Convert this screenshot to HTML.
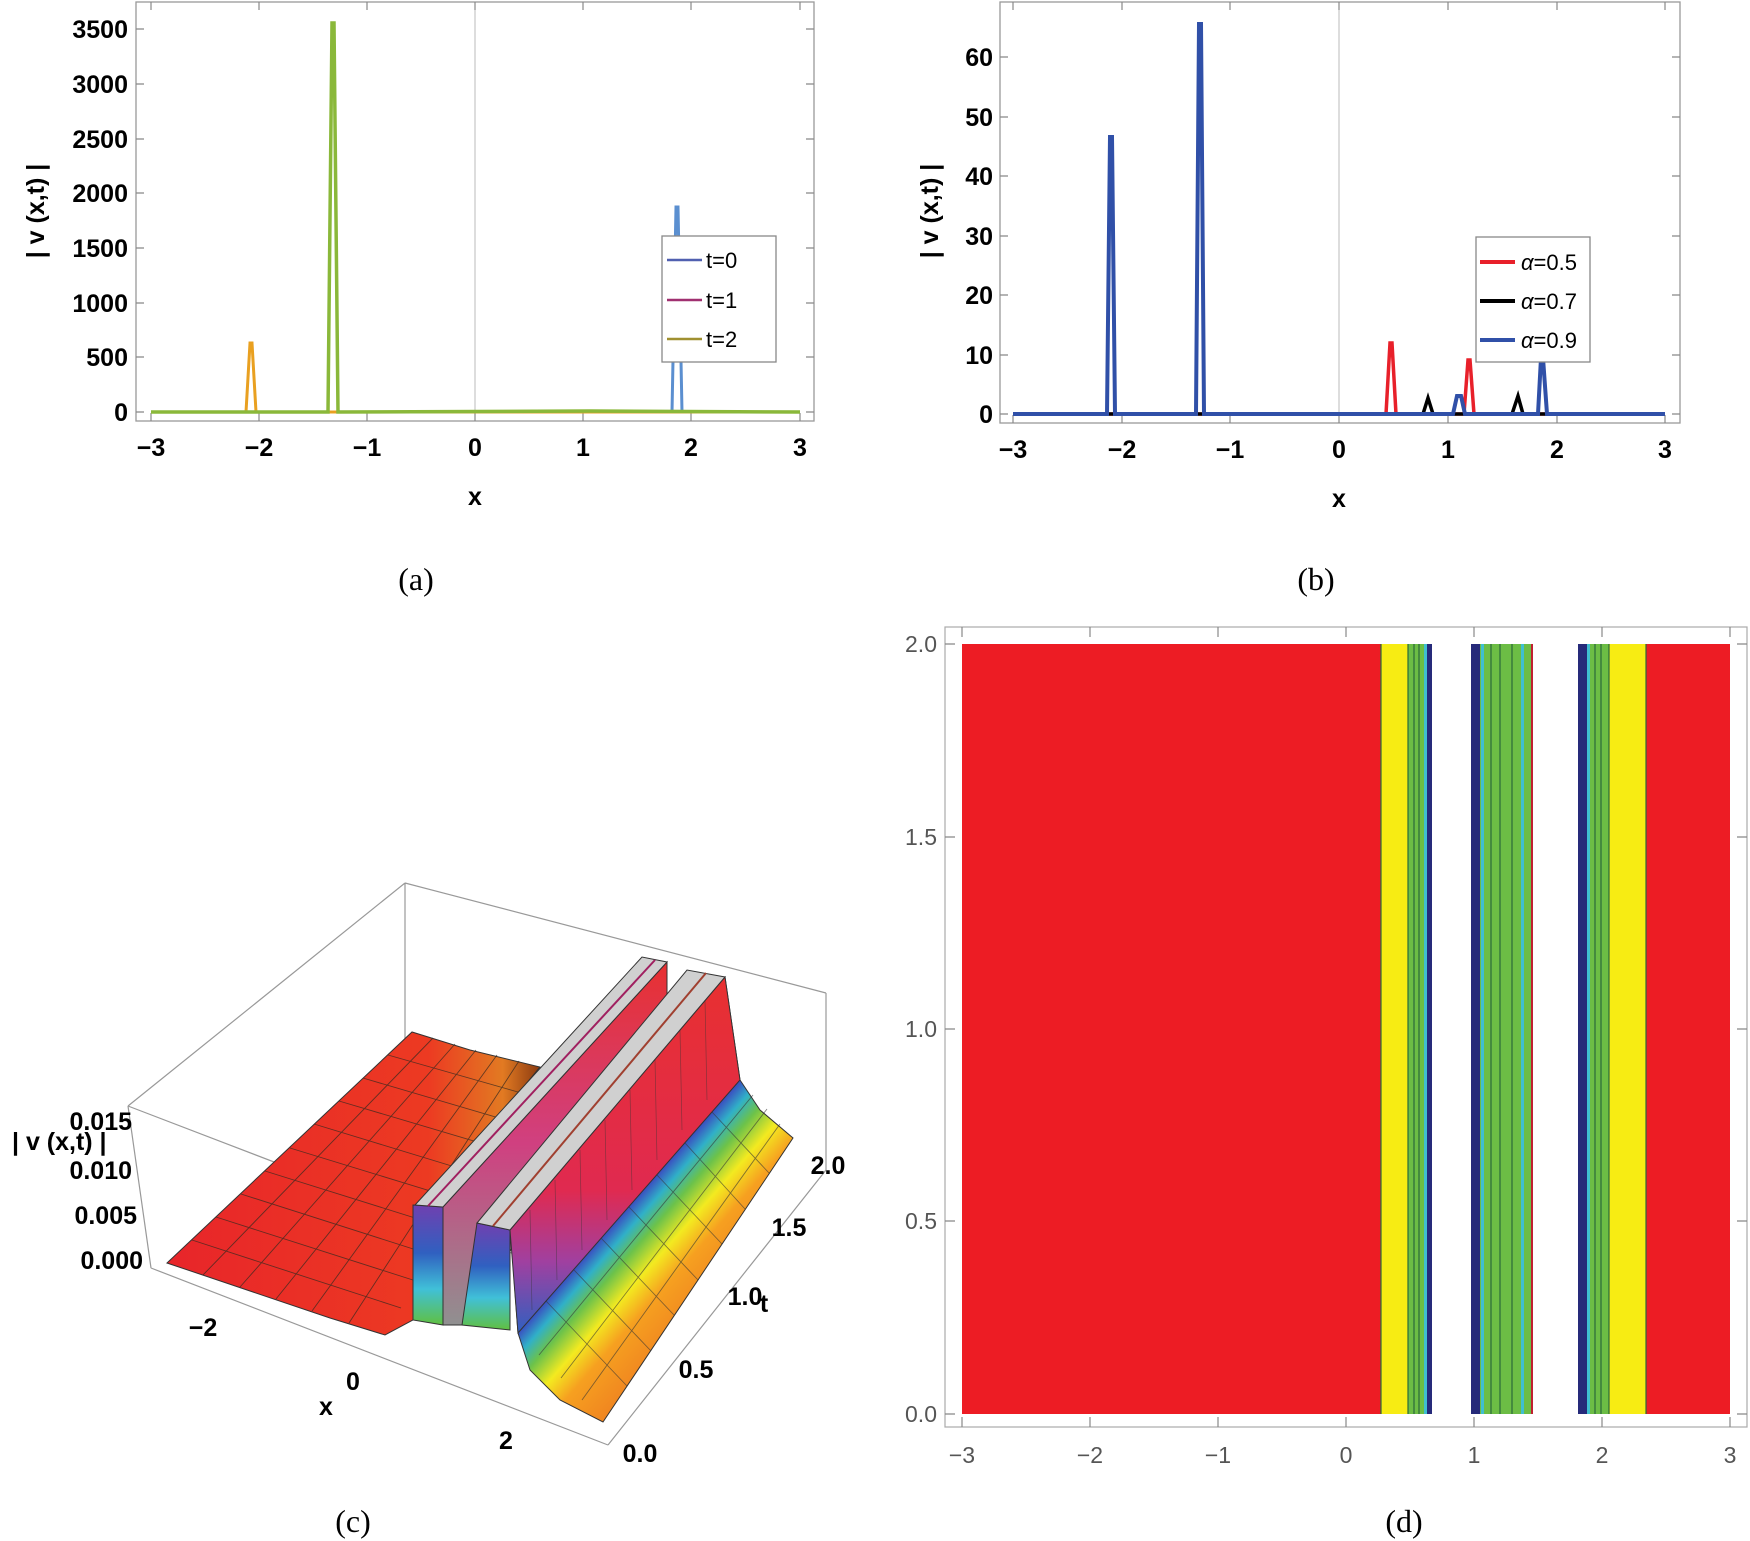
<!DOCTYPE html>
<html><head><meta charset="utf-8"><style>
html,body{margin:0;padding:0;background:#fff}
svg{display:block}
.b{font-family:"Liberation Sans",sans-serif;font-weight:bold;font-size:25px}
.n{font-family:"Liberation Sans",sans-serif;font-size:23px;fill:#555}
.cap{font-family:"Liberation Serif",serif;font-size:32px}
.lg{font-family:"Liberation Sans",sans-serif;font-size:22px}
</style></head><body>
<svg width="1750" height="1541" viewBox="0 0 1750 1541" xmlns="http://www.w3.org/2000/svg">
<defs>
<linearGradient id="rs" x1="0" y1="0" x2="1" y2="0">
<stop offset="0" stop-color="#e8252a"/><stop offset="0.7" stop-color="#ec3a22"/><stop offset="0.9" stop-color="#e27a22"/><stop offset="1" stop-color="#8a3a10"/></linearGradient>
<linearGradient id="rt" gradientUnits="userSpaceOnUse" x1="518" y1="1333" x2="610" y2="1414">
<stop offset="0" stop-color="#3a50c0"/><stop offset="0.12" stop-color="#30b0c8"/><stop offset="0.26" stop-color="#6cc24a"/><stop offset="0.45" stop-color="#f3ea20"/><stop offset="0.65" stop-color="#f6a020"/><stop offset="1" stop-color="#f08520"/></linearGradient>
<linearGradient id="fr" x1="0" y1="0" x2="0" y2="1">
<stop offset="0" stop-color="#7040b0"/><stop offset="0.4" stop-color="#3060c0"/><stop offset="0.7" stop-color="#40c0d8"/><stop offset="1" stop-color="#60c040"/></linearGradient>
<linearGradient id="sd" x1="0" y1="0" x2="0" y2="1">
<stop offset="0" stop-color="#e83030"/><stop offset="0.5" stop-color="#d04080"/><stop offset="1" stop-color="#909090"/></linearGradient>
<linearGradient id="sd2" x1="0" y1="0" x2="0" y2="1">
<stop offset="0" stop-color="#e83030"/><stop offset="0.6" stop-color="#e02a50"/><stop offset="0.8" stop-color="#a040a0"/><stop offset="1" stop-color="#3060c0"/></linearGradient>
</defs>

<!-- Panel (a) -->
<rect x="136" y="2" width="678" height="419" fill="none" stroke="#999" stroke-width="1.3"/>
<line x1="475" y1="2" x2="475" y2="421" stroke="#bbb" stroke-width="1"/>
<g stroke="#888" stroke-width="1.2">
<path d="M151 421v-8M259 421v-8M367 421v-8M475 421v-8M583 421v-8M691 421v-8M800 421v-8M151 2v8M259 2v8M367 2v8M475 2v8M583 2v8M691 2v8M800 2v8"/>
<path d="M136 412h8M136 357h8M136 303h8M136 248h8M136 193h8M136 139h8M136 84h8M136 29h8M814 412h-8M814 357h-8M814 303h-8M814 248h-8M814 193h-8M814 139h-8M814 84h-8M814 29h-8"/>
</g>
<g class="b" text-anchor="end">
<text x="128" y="421">0</text><text x="128" y="366">500</text><text x="128" y="312">1000</text><text x="128" y="257">1500</text><text x="128" y="202">2000</text><text x="128" y="148">2500</text><text x="128" y="93">3000</text><text x="128" y="38">3500</text>
</g>
<g class="b" text-anchor="middle">
<text x="151" y="456">−3</text><text x="259" y="456">−2</text><text x="367" y="456">−1</text><text x="475" y="456">0</text><text x="583" y="456">1</text><text x="691" y="456">2</text><text x="800" y="456">3</text>
<text x="475" y="505">x</text>
</g>
<text class="b" transform="translate(44,211) rotate(-90)" text-anchor="middle">| v (x,t) |</text>
<polyline points="151,412 672,412 676,207 678,207 682,412 800,412" fill="none" stroke="#5b8fd0" stroke-width="3"/>
<polyline points="151,412 246,412 250,343 252,343 256,412 800,412" fill="none" stroke="#e9a020" stroke-width="3"/>
<polyline points="151,412 328,412 332,23 334,23 338,412 590,411 800,412" fill="none" stroke="#8ab83a" stroke-width="3.5"/>
<rect x="662" y="236" width="114" height="126" fill="#fff" stroke="#888" stroke-width="1.3"/>
<line x1="667" y1="260" x2="702" y2="260" stroke="#5060b0" stroke-width="2.5"/>
<line x1="667" y1="300" x2="702" y2="300" stroke="#a03070" stroke-width="2.5"/>
<line x1="667" y1="339" x2="702" y2="339" stroke="#a09030" stroke-width="2.5"/>
<g class="lg"><text x="706" y="268">t=0</text><text x="706" y="308">t=1</text><text x="706" y="347">t=2</text></g>
<text class="cap" x="416" y="590" text-anchor="middle">(a)</text>

<!-- Panel (b) -->
<rect x="1000" y="2" width="680" height="421" fill="none" stroke="#999" stroke-width="1.3"/>
<line x1="1339" y1="2" x2="1339" y2="423" stroke="#bbb" stroke-width="1"/>
<g stroke="#888" stroke-width="1.2">
<path d="M1013 423v-8M1122 423v-8M1230 423v-8M1339 423v-8M1448 423v-8M1557 423v-8M1665 423v-8M1013 2v8M1122 2v8M1230 2v8M1339 2v8M1448 2v8M1557 2v8M1665 2v8"/>
<path d="M1000 414h8M1000 355h8M1000 295h8M1000 236h8M1000 176h8M1000 117h8M1000 57h8M1680 414h-8M1680 355h-8M1680 295h-8M1680 236h-8M1680 176h-8M1680 117h-8M1680 57h-8"/>
</g>
<g class="b" text-anchor="end">
<text x="993" y="423">0</text><text x="993" y="364">10</text><text x="993" y="304">20</text><text x="993" y="245">30</text><text x="993" y="185">40</text><text x="993" y="126">50</text><text x="993" y="66">60</text>
</g>
<g class="b" text-anchor="middle">
<text x="1013" y="458">−3</text><text x="1122" y="458">−2</text><text x="1230" y="458">−1</text><text x="1339" y="458">0</text><text x="1448" y="458">1</text><text x="1557" y="458">2</text><text x="1665" y="458">3</text>
<text x="1339" y="507">x</text>
</g>
<text class="b" transform="translate(938,211) rotate(-90)" text-anchor="middle">| v (x,t) |</text>
<polyline points="1013,414 1386,414 1390,343 1392,343 1396,414 1464,414 1468,360 1470,360 1474,414 1665,414" fill="none" stroke="#e8202a" stroke-width="3.5"/>
<polyline points="1013,414 1423,414 1428,398 1433,414 1512,414 1518,396 1523,414 1665,414" fill="none" stroke="#000" stroke-width="3.5"/>
<polyline points="1013,414 1107,414 1110,137 1112,137 1115,414 1196,414 1199,24 1201,24 1204,414 1453,414 1457,396 1461,396 1465,414 1538,414 1541,358 1543,358 1547,414 1665,414" fill="none" stroke="#3050a8" stroke-width="4"/>
<rect x="1476" y="237" width="114" height="125" fill="#fff" stroke="#888" stroke-width="1.3"/>
<line x1="1480" y1="262" x2="1515" y2="262" stroke="#e8202a" stroke-width="4"/>
<line x1="1480" y1="301" x2="1515" y2="301" stroke="#000" stroke-width="4"/>
<line x1="1480" y1="340" x2="1515" y2="340" stroke="#3050a8" stroke-width="4"/>
<g class="lg"><text x="1521" y="270"><tspan font-style="italic">α</tspan>=0.5</text><text x="1521" y="309"><tspan font-style="italic">α</tspan>=0.7</text><text x="1521" y="348"><tspan font-style="italic">α</tspan>=0.9</text></g>
<text class="cap" x="1316" y="590" text-anchor="middle">(b)</text>

<!-- Panel (c) -->
<g stroke="#999" stroke-width="1.2" fill="none">
<path d="M405 883L826 993M405 883L128 1106M405 883L405 1040M826 993L826 1170M128 1106L151 1268M151 1268L608 1445M608 1445L826 1170M128 1106L608 1290"/>
</g>
<path d="M167 1263L412 1032L470 1050L540 1067L480 1140L440 1190L415 1205L413 1320L385 1335L330 1318Z" fill="url(#rs)" stroke="#333" stroke-width="1"/>
<g stroke="#3a2a20" stroke-width="0.9" opacity="0.75" fill="none">
<path d="M203 1275L433 1038M240 1287L455 1044M276 1299L476 1050M312 1311L497 1055M349 1323L519 1061"/>
<path d="M192 1240L401 1308M216 1217L416 1281M241 1194L432 1255M265 1171L447 1228M290 1148L463 1201M314 1124L478 1174M339 1101L494 1147M363 1078L509 1121M388 1055L525 1094"/>
</g>
<path d="M510 1230L725 977L740 1080L760 1110L793 1138L603 1422L560 1400L530 1370L518 1333L512 1250Z" fill="url(#rt)" stroke="#333" stroke-width="1"/>
<g stroke="#333" stroke-width="0.9" opacity="0.6" fill="none">
<path d="M539 1355L753 1095M561 1378L767 1109M582 1400L780 1124"/>
<path d="M546 1301L627 1386M574 1270L651 1351M601 1238L674 1315M629 1207L698 1280M657 1175L722 1244M685 1143L745 1209M712 1112L769 1173"/>
</g>
<path d="M413 1205L443 1207L443 1325L413 1320Z" fill="url(#fr)" stroke="#333" stroke-width="1"/>
<path d="M443 1207L667 962L667 1010L462 1325L443 1325Z" fill="url(#sd)" stroke="#333" stroke-width="1"/>
<path d="M415 1205L642 957L667 962L443 1207Z" fill="#d0d0d0" stroke="#333" stroke-width="1"/>
<line x1="428" y1="1206" x2="655" y2="960" stroke="#a02060" stroke-width="2"/>
<path d="M477 1223L510 1230L510 1330L462 1325Z" fill="url(#fr)" stroke="#333" stroke-width="1"/>
<path d="M510 1230L725 977L740 1080L518 1333Z" fill="url(#sd2)" stroke="#333" stroke-width="1"/>
<g stroke="#333" stroke-width="0.7" opacity="0.5"><path d="M530 1210L532 1310M555 1180L557 1280M580 1150L582 1250M605 1120L607 1220M630 1090L632 1190M655 1060L657 1160M680 1030L682 1130M705 1000L707 1100"/></g>
<path d="M477 1223L687 970L725 977L510 1230Z" fill="#d0d0d0" stroke="#333" stroke-width="1"/>
<line x1="493" y1="1226" x2="706" y2="973" stroke="#a04030" stroke-width="2"/>
<g class="b" text-anchor="end" font-size="24">
<text x="132" y="1130">0.015</text><text x="132" y="1179">0.010</text><text x="137" y="1224">0.005</text><text x="143" y="1269">0.000</text>
</g>
<text class="b" x="12" y="1150" font-weight="normal" font-size="24">| v (x,t) |</text>
<g class="b" text-anchor="middle">
<text x="203" y="1336">−2</text><text x="353" y="1390">0</text><text x="506" y="1449">2</text><text x="326" y="1415">x</text>
<text x="828" y="1174">2.0</text><text x="789" y="1236">1.5</text><text x="745" y="1305">1.0</text><text x="696" y="1378">0.5</text><text x="640" y="1462">0.0</text><text x="764" y="1312">t</text>
</g>
<text class="cap" x="353" y="1532" text-anchor="middle">(c)</text>

<!-- Panel (d) -->
<rect x="945" y="627" width="802" height="800" fill="none" stroke="#aaa" stroke-width="1.2"/>
<rect x="962" y="644" width="419" height="770" fill="#ed1c24"/>
<rect x="1381" y="644" width="27" height="770" fill="#f7ec13"/>
<rect x="1408" y="644" width="24" height="770" fill="#6cbd45"/>
<rect x="1424" y="644" width="3" height="770" fill="#3fbfd0"/>
<rect x="1427" y="644" width="5" height="770" fill="#262a7a"/>
<rect x="1471" y="644" width="62" height="770" fill="#6cbd45"/>
<rect x="1471" y="644" width="9" height="770" fill="#262a7a"/>
<rect x="1481" y="644" width="3" height="770" fill="#3fbfd0"/>
<rect x="1521" y="644" width="3" height="770" fill="#3fbfd0"/>
<rect x="1531" y="644" width="2" height="770" fill="#c02030"/>
<rect x="1578" y="644" width="31" height="770" fill="#6cbd45"/>
<rect x="1578" y="644" width="9" height="770" fill="#262a7a"/>
<rect x="1587" y="644" width="3" height="770" fill="#3fbfd0"/>
<rect x="1609" y="644" width="37" height="770" fill="#f7ec13"/>
<rect x="1646" y="644" width="84" height="770" fill="#ed1c24"/>
<g stroke="#2a6a3a" stroke-width="1.2">
<path d="M1381 644v770M1408 644v770M1414 644v770M1419 644v770M1491 644v770M1500 644v770M1512 644v770M1595 644v770M1601 644v770M1609 644v770M1646 644v770"/>
</g>
<g stroke="#888" stroke-width="1.2">
<path d="M962 1427v-10M1090 1427v-10M1218 1427v-10M1346 1427v-10M1474 1427v-10M1602 1427v-10M1730 1427v-10M962 627v10M1090 627v10M1218 627v10M1346 627v10M1474 627v10M1602 627v10M1730 627v10"/>
<path d="M945 644h10M945 837h10M945 1029h10M945 1221h10M945 1414h10M1747 644h-10M1747 837h-10M1747 1029h-10M1747 1221h-10M1747 1414h-10"/>
</g>
<g class="n" text-anchor="end">
<text x="937" y="652">2.0</text><text x="937" y="845">1.5</text><text x="937" y="1037">1.0</text><text x="937" y="1229">0.5</text><text x="937" y="1422">0.0</text>
</g>
<g class="n" text-anchor="middle">
<text x="962" y="1463">−3</text><text x="1090" y="1463">−2</text><text x="1218" y="1463">−1</text><text x="1346" y="1463">0</text><text x="1474" y="1463">1</text><text x="1602" y="1463">2</text><text x="1730" y="1463">3</text>
</g>
<text class="cap" x="1404" y="1532" text-anchor="middle">(d)</text>
</svg>
</body></html>
